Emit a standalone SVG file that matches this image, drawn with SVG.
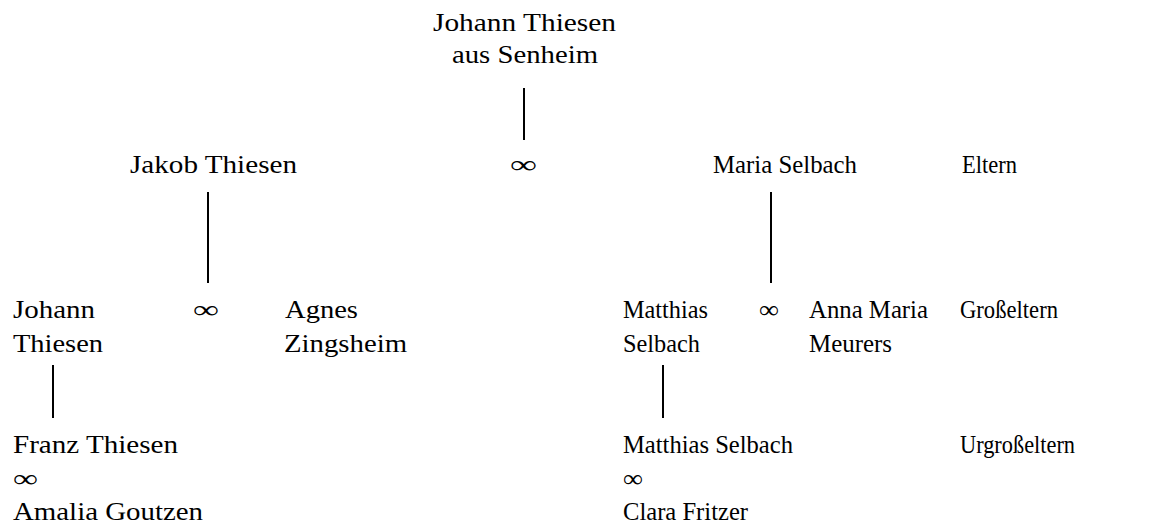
<svg xmlns="http://www.w3.org/2000/svg" width="1170" height="525" viewBox="0 0 1170 525">
<style>
text{font-family:"Liberation Serif","Times New Roman",serif;font-size:25px;fill:#000}
.c line{stroke:#000;stroke-width:2}
</style>
<rect width="1170" height="525" fill="#fff"/>
<g class="c" id="connectors">
<line x1="524" y1="88" x2="524" y2="140"/>
<line x1="208" y1="192" x2="208" y2="283"/>
<line x1="771" y1="192" x2="771" y2="283"/>
<line x1="53" y1="365" x2="53" y2="418"/>
<line x1="663" y1="365" x2="663" y2="418"/>
</g>
<g id="n-johann-senheim"><text x="433" y="31" textLength="183" lengthAdjust="spacingAndGlyphs">Johann Thiesen</text><text x="452" y="63" textLength="146" lengthAdjust="spacingAndGlyphs">aus Senheim</text></g>
<g id="n-jakob"><text x="130" y="173" textLength="167" lengthAdjust="spacingAndGlyphs">Jakob Thiesen</text></g>
<g id="m-eltern"><text x="510" y="173" textLength="27" lengthAdjust="spacingAndGlyphs">∞</text></g>
<g id="n-maria"><text x="713" y="173" textLength="144" lengthAdjust="spacingAndGlyphs">Maria Selbach</text></g>
<g id="l-eltern"><text x="962" y="173" textLength="55" lengthAdjust="spacingAndGlyphs">Eltern</text></g>
<g id="n-johann"><text x="13" y="318" textLength="82" lengthAdjust="spacingAndGlyphs">Johann</text><text x="13" y="352" textLength="90" lengthAdjust="spacingAndGlyphs">Thiesen</text></g>
<g id="m-gross-l"><text x="193" y="318" textLength="26" lengthAdjust="spacingAndGlyphs">∞</text></g>
<g id="n-agnes"><text x="285" y="318" textLength="73" lengthAdjust="spacingAndGlyphs">Agnes</text><text x="284" y="352" textLength="123" lengthAdjust="spacingAndGlyphs">Zingsheim</text></g>
<g id="n-matthias"><text x="623" y="318" textLength="85" lengthAdjust="spacingAndGlyphs">Matthias</text><text x="623" y="352" textLength="77" lengthAdjust="spacingAndGlyphs">Selbach</text></g>
<g id="m-gross-r"><text x="759" y="318" textLength="20" lengthAdjust="spacingAndGlyphs">∞</text></g>
<g id="n-anna"><text x="809" y="318" textLength="119" lengthAdjust="spacingAndGlyphs">Anna Maria</text><text x="809" y="352" textLength="83" lengthAdjust="spacingAndGlyphs">Meurers</text></g>
<g id="l-gross"><text x="960" y="318" textLength="98" lengthAdjust="spacingAndGlyphs">Großeltern</text></g>
<g id="n-franz"><text x="13" y="453" textLength="165" lengthAdjust="spacingAndGlyphs">Franz Thiesen</text><text x="13" y="487" textLength="25" lengthAdjust="spacingAndGlyphs">∞</text><text x="13" y="520" textLength="190" lengthAdjust="spacingAndGlyphs">Amalia Goutzen</text></g>
<g id="n-matthias2"><text x="623" y="453" textLength="170" lengthAdjust="spacingAndGlyphs">Matthias Selbach</text><text x="623" y="487" textLength="20" lengthAdjust="spacingAndGlyphs">∞</text><text x="623" y="520" textLength="125" lengthAdjust="spacingAndGlyphs">Clara Fritzer</text></g>
<g id="l-urgross"><text x="960" y="453" textLength="115" lengthAdjust="spacingAndGlyphs">Urgroßeltern</text></g>
</svg>
